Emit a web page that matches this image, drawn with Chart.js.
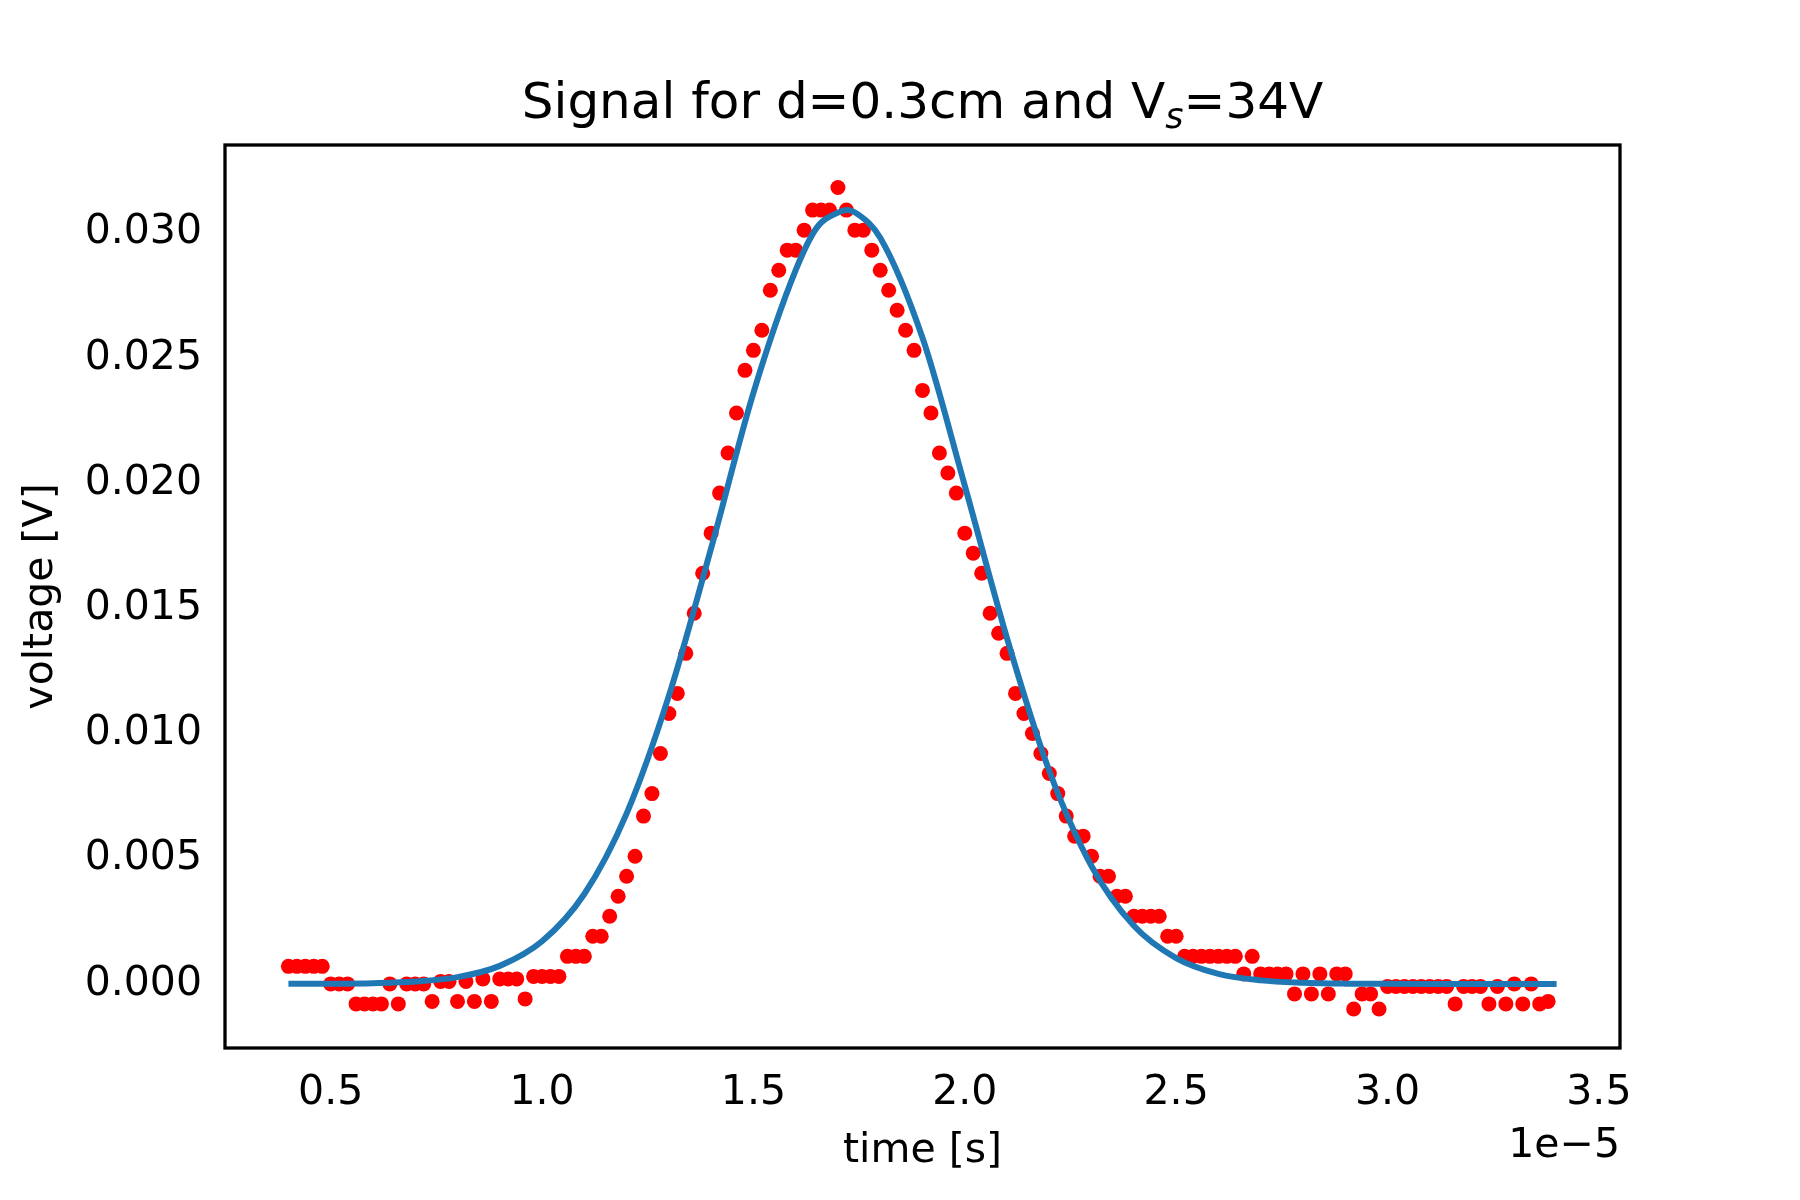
<!DOCTYPE html>
<html>
<head>
<meta charset="utf-8">
<script src="https://cdn.jsdelivr.net/npm/chart.js@4/dist/chart.umd.min.js"></script>
<style>
  html, body { margin: 0; padding: 0; background: #fff; }
  #wrap { width: 1800px; height: 1200px; }
</style>
</head>
<body>
<div id="wrap"><canvas id="c" width="1800" height="1200"></canvas></div>
<script>
// time in units of 1e-5 s
const measTime = [0.40,0.42,0.44,0.46,0.48,0.50,0.52,0.54,0.56,0.58,0.60,0.62,0.64,0.66,0.68,0.70,0.72,0.74,0.76,0.78,
  0.80,0.82,0.84,0.86,0.88,0.90,0.92,0.94,0.96,0.98,1.00,1.02,1.04,1.06,1.08,1.10,1.12,1.14,1.16,1.18,
  1.20,1.22,1.24,1.26,1.28,1.30,1.32,1.34,1.36,1.38,1.40,1.42,1.44,1.46,1.48,1.50,1.52,1.54,1.56,1.58,
  1.60,1.62,1.64,1.66,1.68,1.70,1.72,1.74,1.76,1.78,1.80,1.82,1.84,1.86,1.88,1.90,1.92,1.94,1.96,1.98,
  2.00,2.02,2.04,2.06,2.08,2.10,2.12,2.14,2.16,2.18,2.20,2.22,2.24,2.26,2.28,2.30,2.32,2.34,2.36,2.38,
  2.40,2.42,2.44,2.46,2.48,2.50,2.52,2.54,2.56,2.58,2.60,2.62,2.64,2.66,2.68,2.70,2.72,2.74,2.76,2.78,
  2.80,2.82,2.84,2.86,2.88,2.90,2.92,2.94,2.96,2.98,3.00,3.02,3.04,3.06,3.08,3.10,3.12,3.14,3.16,3.18,
  3.20,3.22,3.24,3.26,3.28,3.30,3.32,3.34,3.36,3.38];
const measVolt = [.0007,.0007,.0007,.0007,.0007,0,0,0,-.0008,-.0008,-.0008,-.0008,0,-.0008,0,0,0,-.0007,.0001,.0001,
  -.0007,.0001,-.0007,.0002,-.0007,.0002,.0002,.0002,-.0006,.0003,.0003,.0003,.0003,.0011,.0011,.0011,.0019,.0019,.0027,.0035,
  .0043,.0051,.0067,.0076,.0092,.0108,.0116,.0132,.0148,.0164,.0180,.0196,.0212,.0228,.0245,.0253,.0261,.0277,.0285,.0293,
  .0293,.0301,.0309,.0309,.0309,.0318,.0309,.0301,.0301,.0293,.0285,.0277,.0269,.0261,.0253,.0237,.0228,.0212,.0204,.0196,
  .0180,.0172,.0164,.0148,.0140,.0132,.0116,.0108,.0100,.0092,.0084,.0076,.0067,.0059,.0059,.0051,.0043,.0043,.0035,.0035,
  .0027,.0027,.0027,.0027,.0019,.0019,.0011,.0011,.0011,.0011,.0011,.0011,.0011,.0004,.0011,.0004,.0004,.0004,.0004,-.0004,
  .0004,-.0004,.0004,-.0004,.0004,.0004,-.0010,-.0004,-.0004,-.0010,-.0001,-.0001,-.0001,-.0001,-.0001,-.0001,-.0001,-.0001,-.0008,-.0001,
  -.0001,-.0001,-.0008,-.0001,-.0008,0,-.0008,0,-.0008,-.0007];

const fitTime = [0.4,0.5,0.6,0.7,0.8,0.9,1.0,1.1,1.2,1.3,1.4,1.5,1.6,1.65,1.7,1.72,1.75,1.8,1.9,2.0,2.1,2.2,2.3,2.4,2.5,2.6,2.7,2.8,2.9,3.0,3.2,3.4];
const fitVolt = [0.0000018,0.0000075,0.0000276,0.000091,0.00027,0.00072,0.0017,0.00359,0.0068,0.0115,0.0174,0.0236,0.0285,0.0302,0.0308,0.0309,0.0307,0.0298,0.0258,0.0199,0.0138,0.0085,0.0047,0.00232,0.00103,0.00040,0.00014,0.000045,0.00001,0.000002,0,0];

const xTicks = [0.5,1.0,1.5,2.0,2.5,3.0,3.5];
const yTicks = [0.000,0.005,0.010,0.015,0.020,0.025,0.030];

const FONT = 'DejaVu Sans';
const tickFont = { family: FONT, size: 41 };

const textPlugin = {
  id: 'texts',
  afterDraw(chart) {
    const { ctx, chartArea: a } = chart;
    ctx.save();
    ctx.strokeStyle = '#000';
    ctx.lineWidth = 3.3;
    ctx.strokeRect(a.left, a.top, a.right - a.left, a.bottom - a.top);
    ctx.fillStyle = '#000';
    // title with subscript s
    const parts = [['Signal for d=0.3cm and V', 50, 0], ['s', 35, 10], ['=34V', 50, 0]];
    let w = 0;
    for (const p of parts) { ctx.font = (p[2] ? 'italic ' : '') + p[1] + 'px ' + FONT; w += ctx.measureText(p[0]).width; }
    let x = (a.left + a.right) / 2 - w / 2;
    ctx.textBaseline = 'alphabetic';
    ctx.textAlign = 'left';
    for (const p of parts) {
      ctx.font = (p[2] ? 'italic ' : '') + p[1] + 'px ' + FONT;
      ctx.fillText(p[0], x, 118 + p[2]);
      x += ctx.measureText(p[0]).width;
    }
    ctx.font = '41px ' + FONT;
    ctx.textAlign = 'center';
    ctx.fillText('time [s]', (a.left + a.right) / 2, 1162);
    ctx.textAlign = 'right';
    ctx.fillText('1e\u22125', a.right, 1157);
    ctx.translate(52, (a.top + a.bottom) / 2);
    ctx.rotate(-Math.PI / 2);
    ctx.textAlign = 'center';
    ctx.fillText('voltage [V]', 0, 0);
    ctx.restore();
  }
};

new Chart(document.getElementById('c'), {
  type: 'scatter',
  data: {
    datasets: [
      {
        data: measTime.map((t, i) => ({ x: t, y: measVolt[i] })),
        backgroundColor: '#ff0000', borderColor: '#ff0000',
        pointRadius: 7.5, pointBorderWidth: 0, showLine: false, order: 2
      },
      {
        data: fitTime.map((t, i) => ({ x: t, y: fitVolt[i] })),
        borderColor: '#1f77b4', borderWidth: 6, pointRadius: 0,
        showLine: true, cubicInterpolationMode: 'monotone', order: 1
      }
    ]
  },
  options: {
    responsive: false,
    devicePixelRatio: 1,
    animation: false,
    layout: { padding: { left: 0, top: 145, right: 180, bottom: 0 } },
    plugins: { legend: { display: false }, tooltip: { enabled: false } },
    scales: {
      x: {
        type: 'linear', min: 0.25, max: 3.55,
        afterBuildTicks: s => { s.ticks = xTicks.map(v => ({ value: v })); },
        afterFit: s => { s.height = 152; },
        grid: { display: false, drawTicks: true, tickLength: 15, tickColor: '#000', tickWidth: 3.3 },
        border: { display: false },
        ticks: { color: '#000', font: tickFont, padding: 6, maxRotation: 0, callback: v => v.toFixed(1) }
      },
      y: {
        type: 'linear', min: -0.00256, max: 0.0335,
        afterBuildTicks: s => { s.ticks = yTicks.map(v => ({ value: v })); },
        afterFit: s => { s.width = 225; },
        grid: { display: false, drawTicks: true, tickLength: 15, tickColor: '#000', tickWidth: 3.3 },
        border: { display: false },
        ticks: { color: '#000', font: tickFont, padding: 8, callback: v => v.toFixed(3) }
      }
    }
  },
  plugins: [textPlugin]
});
</script>
</body>
</html>
